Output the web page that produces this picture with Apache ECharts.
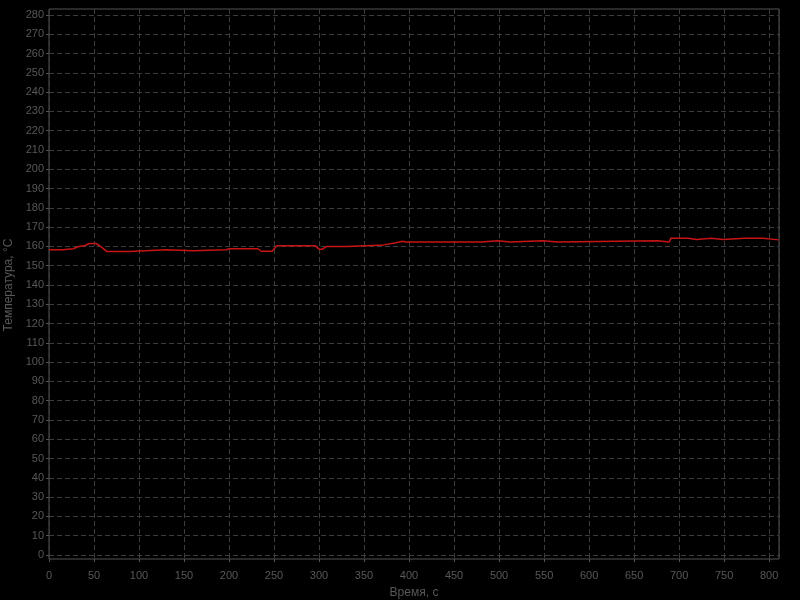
<!DOCTYPE html>
<html>
<head>
<meta charset="utf-8">
<script src="https://cdn.jsdelivr.net/npm/echarts@6/dist/echarts.min.js"></script>
<style>
html,body{margin:0;padding:0;background:#000;}
#chart{width:800px;height:600px;}
</style>
</head>
<body>
<div id="chart"></div>
<script>
// Data
const times = [0, 15, 17, 27, 32, 40, 45, 52, 56, 60, 64, 90, 92, 130, 132, 160, 162, 197, 200, 232, 236, 248, 253, 296, 300, 304, 308, 331, 333, 372, 374, 384, 386, 393, 396, 450, 452, 480, 481, 499, 500, 512, 513, 549, 550, 565, 566, 676, 678, 689, 691, 710, 712, 719, 721, 736, 738, 749, 751, 773, 775, 778, 793, 795, 811];
const temps = [158.3, 158.3, 158.8, 158.8, 159.8, 160.5, 161.5, 161.5, 160.5, 159.0, 157.4, 157.4, 158.3, 158.3, 157.8, 157.8, 158.3, 158.3, 158.8, 158.8, 157.5, 157.5, 160.3, 160.3, 158.6, 158.6, 159.9, 159.9, 160.8, 160.8, 161.8, 161.8, 162.7, 162.7, 162.3, 162.3, 162.3, 162.3, 162.9, 162.9, 162.3, 162.3, 162.9, 162.9, 162.3, 162.3, 162.9, 162.9, 162.3, 162.3, 164.3, 164.3, 163.6, 163.6, 164.3, 164.3, 163.6, 163.6, 164.3, 164.3, 163.8, 164.3, 164.3, 163.4, 163.4];
const xTitle = 'Время, с';
const yTitle = 'Температура, °С';

const seriesData = times.map((t, i) => [t, temps[i]]);
const labelColor = '#585858';
const gridColor = '#3c3c3c';
const font = 'Arial, "Liberation Sans", sans-serif';

const chart = echarts.init(document.getElementById('chart'));
chart.setOption({
  backgroundColor: '#000000',
  animation: false,
  grid: [
    {left: 49, right: 21, top: 9, bottom: 41, show: true, borderColor: '#555555', borderWidth: 1, backgroundColor: 'transparent', containLabel: false, outerBoundsMode: 'none'},
    {left: 49, right: 21, top: 15, bottom: 45, containLabel: false, outerBoundsMode: 'none'}
  ],
  xAxis: [
    {
      gridIndex: 0, type: 'value', min: 0, max: 811, interval: 50,
      name: xTitle, nameLocation: 'middle', nameGap: 28,
      nameTextStyle: {color: labelColor, fontSize: 12, fontFamily: font},
      axisLine: {show: false},
      axisTick: {show: true, length: 3, lineStyle: {color: '#555'}},
      axisLabel: {color: labelColor, fontSize: 11, fontFamily: font, margin: 11, showMaxLabel: false},
      splitLine: {show: true, lineStyle: {color: gridColor, type: [5, 3], width: 1}}
    },
    {
      gridIndex: 1, type: 'value', min: 0, max: 811, show: false,
      splitLine: {show: false}
    }
  ],
  yAxis: [
    {gridIndex: 0, type: 'value', min: 0, max: 1, show: false, splitLine: {show: false}},
    {
      gridIndex: 1, type: 'value', min: 0, max: 280, interval: 10,
      name: yTitle, nameLocation: 'middle', nameGap: 31, nameRotate: 90,
      nameTextStyle: {color: labelColor, fontSize: 12, fontFamily: font},
      axisLine: {show: false},
      axisTick: {show: true, length: 3, lineStyle: {color: '#555'}},
      axisLabel: {color: labelColor, fontSize: 11, fontFamily: font, margin: 5},
      splitLine: {show: true, lineStyle: {color: gridColor, type: [5, 3], width: 1}}
    }
  ],
  series: [{
    type: 'line',
    xAxisIndex: 1, yAxisIndex: 1,
    data: seriesData,
    showSymbol: false,
    lineStyle: {color: '#c81414', width: 1.5},
    itemStyle: {color: '#c81414'}
  }]
});
</script>
</body>
</html>
